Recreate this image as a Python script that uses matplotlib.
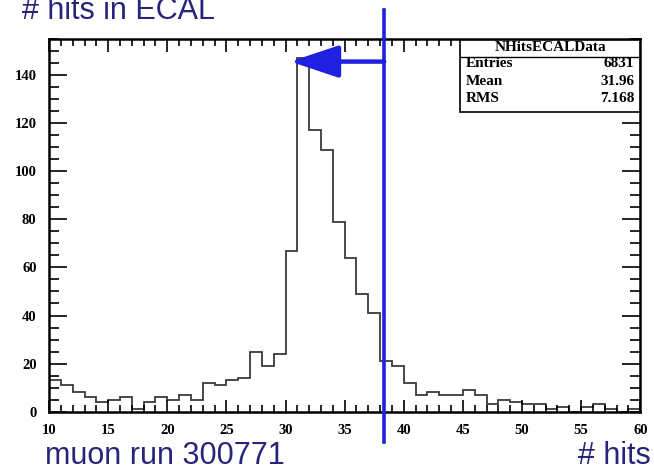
import numpy as np
import matplotlib
matplotlib.use("Agg")
import matplotlib.pyplot as plt
from matplotlib.ticker import MultipleLocator

# histogram content, 1-hit bins from 10 to 60
bin_lo, bin_hi = 10, 60
counts = [13, 11, 8, 6, 4, 5, 6, 1, 4, 6,
          5, 7, 5, 12, 11, 13, 14, 25, 19, 24,
          67, 147, 117, 109, 79, 64, 49, 41, 21, 19,
          12, 7, 8, 7, 7, 9, 7, 3, 5, 4,
          3, 3, 1, 2, 0, 2, 3, 1, 0, 1]

stats_name = "NHitsECALData"
stats_labels = ["Entries", "Mean", "RMS"]
stats_values = ["6831", "31.96", "7.168"]

cut_x = 38.35
arrow_tip = (30.4, 145.6)

navy = "#27247a"
blue = "#2020e0"
serif = "Liberation Serif"
sans = "Liberation Sans"

fig = plt.figure(figsize=(6.54, 4.68), dpi=100)
ax = fig.add_axes([0.075, 0.1203, 0.904, 0.7964])

edges = np.arange(bin_lo, bin_hi + 1)
ax.stairs(counts, edges, color="#3a3a3a", linewidth=1.3)

ax.set_xlim(bin_lo, bin_hi)
ax.set_ylim(0, 155)
ax.xaxis.set_major_locator(MultipleLocator(5))
ax.xaxis.set_minor_locator(MultipleLocator(1))
ax.yaxis.set_major_locator(MultipleLocator(20))
ax.yaxis.set_minor_locator(MultipleLocator(5))
ax.tick_params(which="both", direction="in", top=True, right=True, width=1.2)
ax.tick_params(axis="x", which="major", length=9, pad=9)
ax.tick_params(axis="x", which="minor", length=5)
ax.tick_params(axis="y", which="major", length=13, pad=9)
ax.tick_params(axis="y", which="minor", length=7)
for lab in ax.get_xticklabels() + ax.get_yticklabels():
    lab.set_fontfamily(serif)
    lab.set_fontweight("bold")
    lab.set_fontsize(10.5)
for sp in ax.spines.values():
    sp.set_linewidth(1.8)

# cut line and arrow
ax.plot([cut_x, cut_x], [-12.5, 167], color=blue, linewidth=2.6, clip_on=False, zorder=5)
ax.annotate("", xy=arrow_tip, xytext=(cut_x, arrow_tip[1]),
            arrowprops=dict(arrowstyle="-|>,head_length=30,head_width=10",
                            mutation_scale=1, color=blue, lw=3.2,
                            shrinkA=0, shrinkB=0), zorder=6)

# stats box (axes fraction)
bx0, bx1 = (460 - 49) / 591, 1.0
by0, by1 = 1 - (112 - 39) / 372.7, 1 - (40 - 39) / 372.7
ysep = 1 - (57 - 39) / 372.7
ax.add_patch(plt.Rectangle((bx0, by0), bx1 - bx0, by1 - by0, transform=ax.transAxes,
                           facecolor="white", edgecolor="black", linewidth=1.2, zorder=7))
ax.plot([bx0, bx1], [ysep, ysep], transform=ax.transAxes, color="black", linewidth=1.0, zorder=8)
ax.text((bx0 + bx1) / 2, 1 - (48 - 39) / 372.7, stats_name, transform=ax.transAxes,
        ha="center", va="center", family=serif, weight="bold", fontsize=11, zorder=9)
for i, (lab, val) in enumerate(zip(stats_labels, stats_values)):
    yy = 1 - (64 + 17.5 * i - 39) / 372.7
    ax.text(bx0 + 0.01, yy, lab, transform=ax.transAxes, ha="left", va="center",
            family=serif, weight="bold", fontsize=11, zorder=9)
    ax.text(bx1 - 0.010, yy, val, transform=ax.transAxes, ha="right", va="center",
            family=serif, weight="bold", fontsize=11, zorder=9)

# slide texts
fig.text(22 / 654, 1 - 19 / 468, "# hits in ECAL", family=sans, fontsize=22,
         color=navy, ha="left", va="baseline")
fig.text(45 / 654, 1 - 464 / 468, "muon run 300771", family=sans, fontsize=22,
         color=navy, ha="left", va="baseline")
fig.text(651 / 654, 1 - 464 / 468, "# hits", family=sans, fontsize=22,
         color=navy, ha="right", va="baseline")

fig.savefig("out.png", dpi=100)
